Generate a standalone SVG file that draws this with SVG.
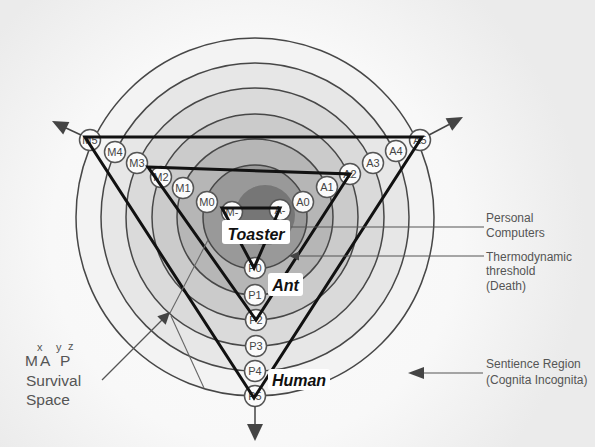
<svg xmlns="http://www.w3.org/2000/svg" width="595" height="447" viewBox="0 0 595 447">
<defs>
<radialGradient id="bg" cx="255" cy="240" r="330" gradientUnits="userSpaceOnUse">
<stop offset="0" stop-color="#fbfbfb"/>
<stop offset="0.62" stop-color="#f8f8f8"/>
<stop offset="1" stop-color="#ebebeb"/>
</radialGradient>
<style>
.ring{stroke:#474747;stroke-width:1.5}
.node circle{fill:#fbfbfb;stroke:#555;stroke-width:1.5}
.node text{font-family:"Liberation Sans",Arial,sans-serif;font-size:11px;fill:#454545;text-anchor:middle}
.tri{fill:none;stroke:#111;stroke-width:3;stroke-linejoin:miter}
.lbl rect{fill:#fff}
.lbl text{font-family:"Liberation Sans",Arial,sans-serif;font-size:16px;font-weight:bold;font-style:italic;fill:#111;text-anchor:middle}
.note{font-family:"Liberation Sans",Arial,sans-serif;font-size:12px;fill:#555}
.big{font-family:"Liberation Sans",Arial,sans-serif;font-size:15.5px;fill:#555}
.sup{font-family:"Liberation Sans",Arial,sans-serif;font-size:11px;fill:#555}
.lead{stroke:#555;stroke-width:1.2;fill:none}
.thin{stroke:#666;stroke-width:1.1;fill:none}
.ah{fill:#444}
.ax{stroke:#444;stroke-width:1.5;fill:none}
</style>
</defs>
<rect width="595" height="447" fill="url(#bg)"/>
<g id="rings">
<circle class="ring" cx="255" cy="217" r="179" fill="#f3f3f3"/>
<circle class="ring" cx="255" cy="217" r="154" fill="#e7e7e7"/>
<circle class="ring" cx="255" cy="217" r="129" fill="#dadada"/>
<circle class="ring" cx="255" cy="217" r="103" fill="#cbcbcb"/>
<circle class="ring" cx="255" cy="217" r="78" fill="#b6b6b6"/>
<circle class="ring" cx="255" cy="217" r="52" fill="#999999"/>
<circle cx="265" cy="215" r="30" fill="#767676"/>
</g>
<g id="node-M5" class="node"><circle cx="90" cy="140" r="10.5"/><text x="90" y="144">M5</text></g>
<g id="node-M4" class="node"><circle cx="115" cy="152" r="10.5"/><text x="115" y="156">M4</text></g>
<g id="node-M3" class="node"><circle cx="137" cy="163" r="10.5"/><text x="137" y="167">M3</text></g>
<g id="node-M2" class="node"><circle cx="161" cy="177" r="10.5"/><text x="161" y="181">M2</text></g>
<g id="node-M1" class="node"><circle cx="183" cy="188" r="10.5"/><text x="183" y="192">M1</text></g>
<g id="node-M0" class="node"><circle cx="207" cy="202" r="10.5"/><text x="207" y="206">M0</text></g>
<g id="node-Mminus" class="node"><circle cx="232" cy="212" r="10.5"/><text x="232" y="216">M-</text></g>
<g id="node-Aminus" class="node"><circle cx="280" cy="210" r="10.5"/><text x="280" y="214">A-</text></g>
<g id="node-A0" class="node"><circle cx="303" cy="202" r="10.5"/><text x="303" y="206">A0</text></g>
<g id="node-A1" class="node"><circle cx="327" cy="187" r="10.5"/><text x="327" y="191">A1</text></g>
<g id="node-A2" class="node"><circle cx="350" cy="174" r="10.5"/><text x="350" y="178">A2</text></g>
<g id="node-A3" class="node"><circle cx="373" cy="163" r="10.5"/><text x="373" y="167">A3</text></g>
<g id="node-A4" class="node"><circle cx="396" cy="151" r="10.5"/><text x="396" y="155">A4</text></g>
<g id="node-A5" class="node"><circle cx="420" cy="140" r="10.5"/><text x="420" y="144">A5</text></g>
<g id="node-P0" class="node"><circle cx="255" cy="268" r="10.5"/><text x="255" y="272">P0</text></g>
<g id="node-P1" class="node"><circle cx="255" cy="295" r="10.5"/><text x="255" y="299">P1</text></g>
<g id="node-P2" class="node"><circle cx="256" cy="320" r="10.5"/><text x="256" y="324">P2</text></g>
<g id="node-P3" class="node"><circle cx="256" cy="346" r="10.5"/><text x="256" y="350">P3</text></g>
<g id="node-P4" class="node"><circle cx="255" cy="371" r="10.5"/><text x="255" y="375">P4</text></g>
<g id="node-P5" class="node"><circle cx="255" cy="396" r="10.5"/><text x="255" y="400">P5</text></g>
<g id="connectors">
<polygon class="tri" points="85,137 422,137 254,398"/>
<polygon class="tri" points="148,167 350,174 256,320"/>
<polygon class="tri" points="222,208 280,208 254,268"/>
<line class="ax" x1="81" y1="135" x2="66" y2="128"/>
<polygon class="ah" points="52,121 69.4,121.9 63.2,134.5"/>
<line class="ax" x1="429" y1="135" x2="449" y2="124.5"/>
<polygon class="ah" points="463,117 452.2,130.7 445.6,118.3"/>
<line class="ax" x1="255" y1="406" x2="255" y2="424"/>
<polygon class="ah" points="247,424 263,424 255,441"/>
<line class="lead" x1="291" y1="227" x2="484" y2="227"/>
<line class="lead" x1="297" y1="256" x2="484" y2="256"/>
<polygon class="ah" points="289,256 299,251.5 299,260.5"/>
<line class="lead" x1="422" y1="373" x2="483" y2="373"/>
<polygon class="ah" points="408,373 424,367 424,379"/>
<line class="lead" x1="102" y1="380" x2="163" y2="319"/>
<polygon class="ah" points="170,312 165.7,324.7 157.3,316.3"/>
<line class="thin" x1="170" y1="313" x2="208" y2="240"/>
<line class="thin" x1="171" y1="316" x2="204" y2="388"/>
</g>
<g id="label-toaster" class="lbl"><rect x="222" y="220" width="68" height="24" rx="3"/><text x="256" y="240">Toaster</text></g>
<g id="label-ant" class="lbl"><rect x="268" y="273" width="35" height="23" rx="3"/><text x="285.5" y="291">Ant</text></g>
<g id="label-human" class="lbl"><rect x="268" y="369" width="62" height="21" rx="3"/><text x="299" y="386">Human</text></g>
<g id="notes">
<text class="note" x="486" y="222">Personal</text>
<text class="note" x="486" y="237">Computers</text>
<text class="note" x="486" y="261">Thermodynamic</text>
<text class="note" x="486" y="275">threshold</text>
<text class="note" x="486" y="290">(Death)</text>
<text class="note" x="486" y="368">Sentience Region</text>
<text class="note" x="486" y="384">(Cognita Incognita)</text>
<text class="big" x="25" y="366">M</text>
<text class="sup" x="37" y="351">x</text>
<text class="big" x="40" y="366">A</text>
<text class="sup" x="56" y="351">y</text>
<text class="big" x="60" y="366">P</text>
<text class="sup" x="68" y="350">z</text>
<text class="big" x="26" y="386">Survival</text>
<text class="big" x="26" y="405">Space</text>
</g>
</svg>
